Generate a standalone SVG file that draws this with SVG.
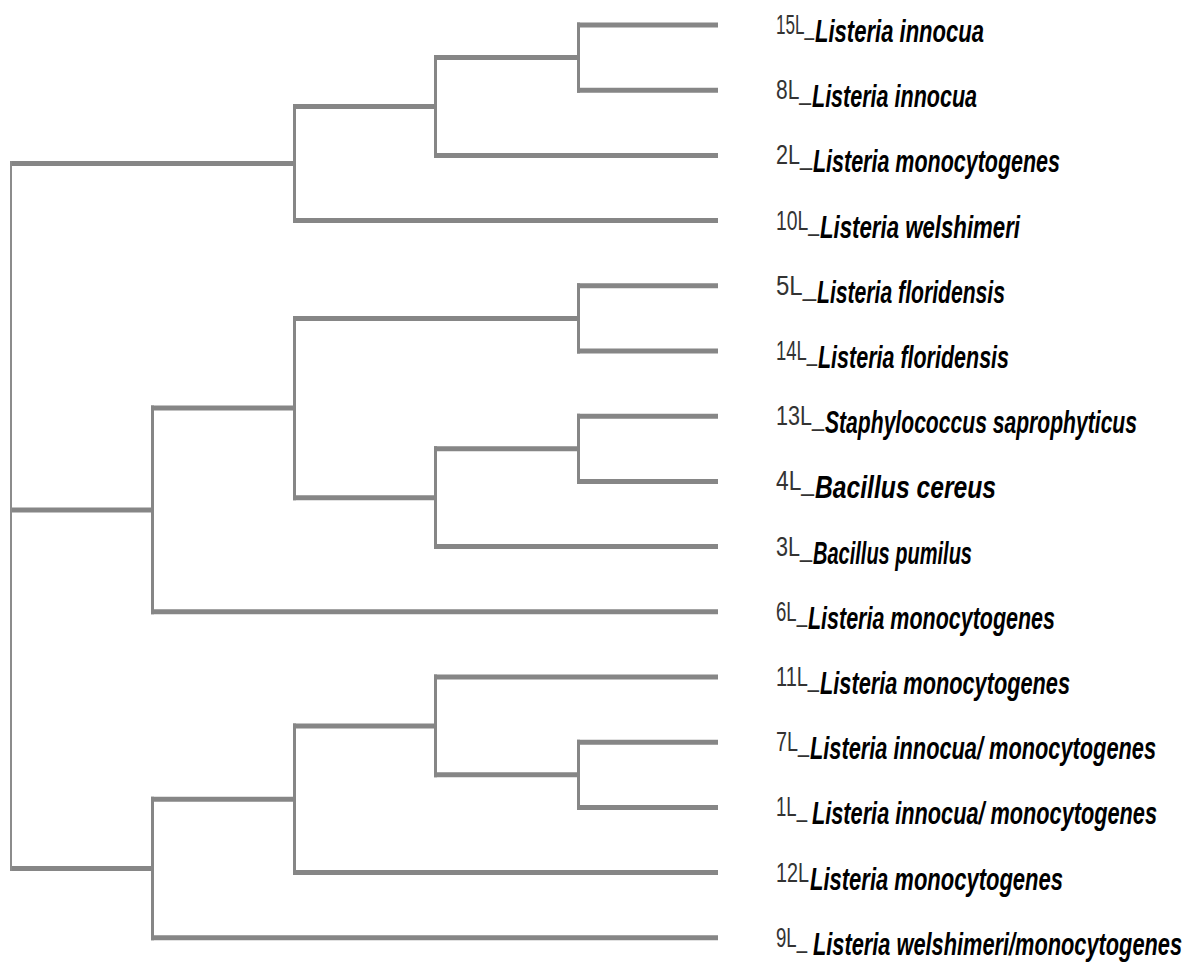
<svg xmlns="http://www.w3.org/2000/svg" width="1189" height="963" viewBox="0 0 1189 963">
<style>
.h{stroke:#868686;stroke-width:5;fill:none}
.v{stroke:#868686;stroke-width:3;fill:none}
.r{stroke:#8c8c8c;stroke-width:2;fill:none}
text{font-family:"Liberation Sans",Arial,sans-serif}
.n{font-size:28px;fill:#333}
.s{font-size:32px;font-weight:bold;font-style:italic;fill:#000}
</style>
<rect width="1189" height="963" fill="#fff"/>
<g id="connectors">
<path class="h" d="M577 25H718M577 90.2H718M434 155.4H718M293 220.6H718M577 285.8H718M577 351H718M577 416.2H718M577 481.4H718M434 546.6H718M151 611.8H718M434 677H718M577 742.2H718M577 807.4H718M293 872.6H718M151 937.8H718"/>
<path class="h" d="M434 57.6H578M293 106.5H435M10 163.5H294M293 318.4H578M434 448.8H578M293 497.7H435M151 408H294M10 509.9H152M434 774.8H578M293 725.9H435M151 799.2H294M10 868.5H152"/>
<path class="v" d="M578.5 22.5V92.7M435.5 55.1V157.9M294.5 104V223.1M578.5 283.3V353.5M578.5 413.7V483.9M435.5 446.3V549.1M294.5 315.9V500.2M152.5 405.5V614.3M578.5 739.7V809.9M435.5 674.5V777.3M294.5 723.4V875.1M152.5 796.7V940.3"/>
<path class="r" d="M11 161V871"/>
</g>
<g id="leaf-15L"><text><tspan class="n" x="776" y="34" textLength="38" lengthAdjust="spacingAndGlyphs">15L_</tspan><tspan class="s" x="815" y="42" textLength="169" lengthAdjust="spacingAndGlyphs">Listeria innocua</tspan></text></g>
<g id="leaf-8L"><text><tspan class="n" x="776" y="99.2" textLength="35" lengthAdjust="spacingAndGlyphs">8L_</tspan><tspan class="s" x="812" y="107.2" textLength="165" lengthAdjust="spacingAndGlyphs">Listeria innocua</tspan></text></g>
<g id="leaf-2L"><text><tspan class="n" x="776" y="164.4" textLength="36" lengthAdjust="spacingAndGlyphs">2L_</tspan><tspan class="s" x="813" y="172.4" textLength="247" lengthAdjust="spacingAndGlyphs">Listeria monocytogenes</tspan></text></g>
<g id="leaf-10L"><text><tspan class="n" x="776" y="229.6" textLength="43" lengthAdjust="spacingAndGlyphs">10L_</tspan><tspan class="s" x="820" y="237.6" textLength="200" lengthAdjust="spacingAndGlyphs">Listeria welshimeri</tspan></text></g>
<g id="leaf-5L"><text><tspan class="n" x="776" y="294.8" textLength="40" lengthAdjust="spacingAndGlyphs">5L_</tspan><tspan class="s" x="817" y="302.8" textLength="188" lengthAdjust="spacingAndGlyphs">Listeria floridensis</tspan></text></g>
<g id="leaf-14L"><text><tspan class="n" x="776" y="360" textLength="41" lengthAdjust="spacingAndGlyphs">14L_</tspan><tspan class="s" x="818" y="368" textLength="191" lengthAdjust="spacingAndGlyphs">Listeria floridensis</tspan></text></g>
<g id="leaf-13L"><text><tspan class="n" x="776" y="425.2" textLength="48" lengthAdjust="spacingAndGlyphs">13L_</tspan><tspan class="s" x="825" y="433.2" textLength="312" lengthAdjust="spacingAndGlyphs">Staphylococcus saprophyticus</tspan></text></g>
<g id="leaf-4L"><text><tspan class="n" x="776" y="490.4" textLength="38" lengthAdjust="spacingAndGlyphs">4L_</tspan><tspan class="s" x="815" y="498.4" textLength="181" lengthAdjust="spacingAndGlyphs">Bacillus cereus</tspan></text></g>
<g id="leaf-3L"><text><tspan class="n" x="776" y="555.6" textLength="36" lengthAdjust="spacingAndGlyphs">3L_</tspan><tspan class="s" x="813" y="563.6" textLength="159" lengthAdjust="spacingAndGlyphs">Bacillus pumilus</tspan></text></g>
<g id="leaf-6L"><text><tspan class="n" x="776" y="620.8" textLength="31" lengthAdjust="spacingAndGlyphs">6L_</tspan><tspan class="s" x="808" y="628.8" textLength="247" lengthAdjust="spacingAndGlyphs">Listeria monocytogenes</tspan></text></g>
<g id="leaf-11L"><text><tspan class="n" x="776" y="686" textLength="43" lengthAdjust="spacingAndGlyphs">11L_</tspan><tspan class="s" x="820" y="694" textLength="250" lengthAdjust="spacingAndGlyphs">Listeria monocytogenes</tspan></text></g>
<g id="leaf-7L"><text><tspan class="n" x="776" y="751.2" textLength="33" lengthAdjust="spacingAndGlyphs">7L_</tspan><tspan class="s" x="810" y="759.2" textLength="346" lengthAdjust="spacingAndGlyphs">Listeria innocua/ monocytogenes</tspan></text></g>
<g id="leaf-1L"><text><tspan class="n" x="776" y="816.4" textLength="31" lengthAdjust="spacingAndGlyphs">1L_</tspan><tspan class="s" x="812" y="824.4" textLength="345" lengthAdjust="spacingAndGlyphs">Listeria innocua/ monocytogenes</tspan></text></g>
<g id="leaf-12L"><text><tspan class="n" x="776" y="881.6" textLength="33" lengthAdjust="spacingAndGlyphs">12L</tspan><tspan class="s" x="810" y="889.6" textLength="253" lengthAdjust="spacingAndGlyphs">Listeria monocytogenes</tspan></text></g>
<g id="leaf-9L"><text><tspan class="n" x="776" y="946.8" textLength="31" lengthAdjust="spacingAndGlyphs">9L_</tspan><tspan class="s" x="813" y="954.8" textLength="369" lengthAdjust="spacingAndGlyphs">Listeria welshimeri/monocytogenes</tspan></text></g>
</svg>
